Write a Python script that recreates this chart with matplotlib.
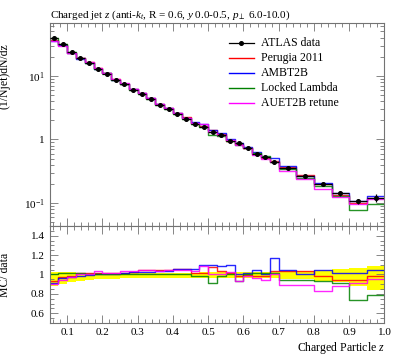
import numpy as np
import matplotlib
matplotlib.use('Agg')
import matplotlib.pyplot as plt
from matplotlib.ticker import MultipleLocator, LogLocator, FixedLocator, FixedFormatter, NullFormatter

# bin edges (charged particle z)
edges = [0.05, 0.075, 0.1, 0.125, 0.15, 0.175, 0.2, 0.225, 0.25, 0.275,
         0.3, 0.325, 0.35, 0.375, 0.4, 0.425, 0.45, 0.475, 0.5, 0.525,
         0.55, 0.575, 0.6, 0.625, 0.65, 0.675, 0.7, 0.75, 0.8, 0.85,
         0.9, 0.95, 1.0]

data_vals = [39.3, 31.5, 23.6, 19.0, 16.2, 13.0, 10.9, 8.65, 7.4, 6.0,
             5.2, 4.3, 3.5, 3.0, 2.5, 2.1, 1.77, 1.6, 1.3, 1.16,
             0.94, 0.875, 0.74, 0.60, 0.53, 0.44, 0.36, 0.264, 0.20, 0.143,
             0.107, 0.121]
data_relerr = [0.03, 0.03, 0.03, 0.03, 0.03, 0.03, 0.03, 0.03, 0.03, 0.03,
               0.03, 0.03, 0.03, 0.03, 0.03, 0.03, 0.035, 0.035, 0.035, 0.04,
               0.04, 0.04, 0.045, 0.045, 0.05, 0.05, 0.05, 0.06, 0.07, 0.08,
               0.1, 0.15]

# data uncertainty band (ratio)
band_lo = [0.88, 0.90, 0.92, 0.93, 0.94, 0.95, 0.95, 0.955, 0.96, 0.96,
           0.96, 0.965, 0.965, 0.965, 0.965, 0.965, 0.965, 0.965, 0.965, 0.965,
           0.965, 0.965, 0.96, 0.96, 0.96, 0.96, 0.95, 0.95, 0.93, 0.92,
           0.88, 0.845]
band_hi = [1.03, 1.03, 1.025, 1.02, 1.02, 1.02, 1.02, 1.02, 1.02, 1.02,
           1.02, 1.02, 1.02, 1.02, 1.02, 1.02, 1.02, 1.025, 1.025, 1.025,
           1.025, 1.025, 1.03, 1.03, 1.03, 1.03, 1.035, 1.04, 1.05, 1.06,
           1.07, 1.085]

# MC / data ratios
r_perugia = [0.93, 0.975, 0.98, 1.02, 1.02, 1.015, 1.02, 1.02, 1.02, 1.03,
             1.045, 1.05, 1.05, 1.05, 1.06, 1.06, 1.02, 1.02, 1.08, 1.035,
             1.017, 0.985, 0.99, 0.985, 0.98, 1.035, 1.035, 1.035, 0.985, 0.948,
             0.948, 0.985]
r_ambt2b = [0.91, 0.965, 0.975, 0.985, 0.99, 1.0, 1.005, 1.01, 1.02, 1.025,
            1.03, 1.03, 1.04, 1.04, 1.055, 1.055, 1.06, 1.097, 1.10, 1.086,
            1.10, 1.0, 1.017, 1.05, 1.0, 1.17, 1.05, 1.0, 1.05, 1.017,
            1.017, 1.05]
r_locked = [1.007, 1.017, 1.02, 1.02, 1.0, 1.0, 1.005, 1.005, 1.005, 1.005,
            1.007, 1.007, 1.007, 1.007, 1.0, 1.0, 0.98, 0.98, 0.91, 0.98,
            1.0, 0.93, 1.0, 1.02, 1.02, 1.02, 0.948, 0.948, 0.93, 0.91,
            0.734, 0.786]
r_auet2b = [0.903, 0.948, 0.97, 1.01, 1.01, 1.035, 1.02, 1.02, 1.035, 1.04,
            1.045, 1.045, 1.04, 1.05, 1.048, 1.045, 1.04, 1.086, 1.0, 1.0,
            1.03, 0.93, 0.98, 0.965, 0.948, 1.0, 0.896, 0.896, 0.83, 0.88,
            0.91, 0.95]

mc_names = ['Perugia 2011', 'AMBT2B', 'Locked Lambda', 'AUET2B retune']
mc_colors = ['red', 'blue', 'green', 'magenta']
mc_ratios = [r_perugia, r_ambt2b, r_locked, r_auet2b]

edges = np.array(edges)
data = np.array(data_vals)
derr = data * np.array(data_relerr)
centers = 0.5 * (edges[1:] + edges[:-1])
halfw = 0.5 * (edges[1:] - edges[:-1])

plt.rcParams['font.family'] = ['Liberation Serif', 'DejaVu Serif']
plt.rcParams['mathtext.fontset'] = 'custom'
plt.rcParams['mathtext.rm'] = 'Liberation Serif'
plt.rcParams['mathtext.it'] = 'Liberation Serif:italic'

fig = plt.figure(figsize=(3.97, 3.58), dpi=100)
ax = fig.add_axes([0.1247, 0.3687, 0.8438, 0.5671])
rax = fig.add_axes([0.1247, 0.0978, 0.8438, 0.2709], sharex=ax)

framec = '0.45'


def style(a):
    for s in a.spines.values():
        s.set_color(framec)
        s.set_linewidth(0.8)
    a.tick_params(which='both', direction='in', top=True, right=True,
                  color=framec, labelsize=8)
    a.tick_params(which='major', length=6, width=0.6)
    a.tick_params(which='minor', length=3, width=0.6)


def step(a, vals, **kw):
    y = np.append(vals, vals[-1])
    a.step(edges, y, where='post', **kw)


# main panel
for name, col, rat in zip(mc_names, mc_colors, mc_ratios):
    step(ax, data * np.array(rat), color=col, lw=1.0, alpha=0.85)
ax.errorbar(centers, data, xerr=halfw, yerr=derr, fmt='o', color='black',
            ms=2.6, lw=0.9, capsize=0, zorder=5)

# legend
lx0, lx1, tx = 0.535, 0.61, 0.63
ly = [0.9, 0.826, 0.752, 0.678, 0.604]
ax.plot([lx0, lx1], [ly[0], ly[0]], color='black', lw=0.9, transform=ax.transAxes)
ax.plot([0.5 * (lx0 + lx1)], [ly[0]], 'o', color='black', ms=2.6, transform=ax.transAxes)
ax.text(tx, ly[0], 'ATLAS data', transform=ax.transAxes, fontsize=8.5, va='center')
for i, (name, col) in enumerate(zip(mc_names, mc_colors)):
    ax.plot([lx0, lx1], [ly[i + 1], ly[i + 1]], color=col, lw=1.0, transform=ax.transAxes)
    ax.text(tx, ly[i + 1], name, transform=ax.transAxes, fontsize=8.5, va='center')

ax.set_yscale('log')
ax.set_ylim(0.0436, 68)
ax.set_xlim(0.05, 1.0)
ax.yaxis.set_major_locator(FixedLocator([0.1, 1, 10]))
ax.yaxis.set_major_formatter(FixedFormatter(['$10^{-1}$', '1', '$10^{1}$']))
ax.yaxis.set_minor_locator(LogLocator(base=10, subs=np.arange(2, 10)))
ax.yaxis.set_minor_formatter(NullFormatter())
ax.xaxis.set_major_locator(MultipleLocator(0.1))
ax.xaxis.set_minor_locator(MultipleLocator(0.02))
style(ax)
ax.tick_params(labelbottom=False)
ax.set_ylabel('(1/Njet)dN/dz', fontsize=8.5)
ax.yaxis.set_label_coords(-0.115, 0.74)
ax.set_title('Charged jet $z$ (anti-$k_t$, R = 0.6, $y$ 0.0-0.5, $p_\\perp$ 6.0-10.0)',
             fontsize=8, loc='left', pad=4)

# ratio panel
rax.fill_between(edges, np.append(band_lo, band_lo[-1]), np.append(band_hi, band_hi[-1]),
                 step='post', color='yellow', lw=0)
for col, rat in zip(mc_colors, mc_ratios):
    step(rax, np.array(rat), color=col, lw=1.0, alpha=0.85)
rax.set_ylim(0.5, 1.5)
rax.yaxis.set_major_locator(FixedLocator([0.6, 0.8, 1.0, 1.2, 1.4]))
rax.yaxis.set_major_formatter(FixedFormatter(['0.6', '0.8', '1', '1.2', '1.4']))
rax.yaxis.set_minor_locator(MultipleLocator(0.05))
style(rax)
rax.set_ylabel('MC/ data', fontsize=8.5)
rax.yaxis.set_label_coords(-0.115, 0.5)
rax.set_xlabel('Charged Particle $z$', fontsize=8.5, loc='right', labelpad=2)

fig.savefig('out.png', dpi=100)
